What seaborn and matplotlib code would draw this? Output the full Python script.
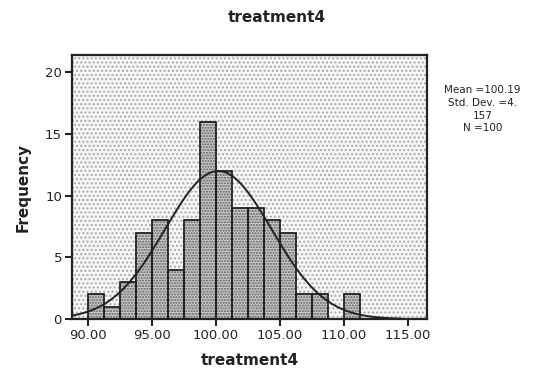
import numpy as np
import pandas as pd
import matplotlib
matplotlib.use("Agg")
import matplotlib.pyplot as plt
import seaborn as sns

# Frequency table of treatment4 (bins of width 1.25 starting at 90)
bin_start = 90.0
bin_width = 1.25
counts = [2, 1, 3, 7, 8, 4, 8, 16, 12, 9, 9, 8, 7, 2, 2, 0, 2]
mean_value = 100.19
std_dev = 4.157
n_obs = 100
x_ticks = [90, 95, 100, 105, 110, 115]
y_ticks = [0, 5, 10, 15, 20]

edges = [bin_start + bin_width * i for i in range(len(counts) + 1)]
centers = [(edges[i] + edges[i + 1]) / 2 for i in range(len(counts))]
df = pd.DataFrame({"treatment4": centers, "count": counts})

sns.set_style("white")
plt.rcParams["font.family"] = ["DejaVu Sans"]
plt.rcParams["hatch.linewidth"] = 1.0

fig = plt.figure(figsize=(5.6, 3.9), dpi=100)
ax = fig.add_axes([0.128, 0.182, 0.635, 0.677])

# dotted plot background
ax.patch.set_facecolor("#f7f7f7")
ax.patch.set_hatch("....")
ax.patch.set_edgecolor("#a8a8a8")

# bar fill (dense dots) and outlines drawn as two layers
sns.histplot(data=df, x="treatment4", weights="count", bins=edges, ax=ax,
             stat="count", fill=True, color="#cbcbcb", edgecolor="#5a5a5a",
             linewidth=0, hatch="......", alpha=1.0)
sns.histplot(data=df, x="treatment4", weights="count", bins=edges, ax=ax,
             stat="count", element="bars", fill=False, color="#222222",
             linewidth=1.3)

# fitted normal curve scaled to the histogram
xs = np.linspace(88.8, 114.5, 300)
ys = n_obs * bin_width * np.exp(-0.5 * ((xs - mean_value) / std_dev) ** 2) / (std_dev * np.sqrt(2 * np.pi))
sns.lineplot(x=xs, y=ys, ax=ax, color="#222222", linewidth=1.4)

ax.set_xlim(88.75, 116.5)
ax.set_ylim(0, 21.4)
ax.set_xticks(x_ticks)
ax.set_xticklabels([f"{v:.2f}" for v in x_ticks])
ax.set_yticks(y_ticks)
ax.set_yticklabels([str(v) for v in y_ticks])
ax.tick_params(axis="both", direction="out", length=5, width=1.5, color="#222222",
               labelsize=9.5, labelcolor="#222222", pad=2, left=True, bottom=True)

for s in ax.spines.values():
    s.set_visible(True)
    s.set_color("#222222")
    s.set_linewidth(1.6)
    s.set_linestyle((0, (1.5, 0.7)))

ax.set_xlabel("treatment4", fontsize=11, fontweight="bold", color="#222222", labelpad=8)
ax.set_ylabel("Frequency", fontsize=11, fontweight="bold", color="#222222", labelpad=10)
fig.text(0.495, 0.955, "treatment4", ha="center", va="center", fontsize=11,
         fontweight="bold", color="#222222")

fig.text(0.862, 0.72, f"Mean ={mean_value}\nStd. Dev. =4.\n157\nN ={n_obs}",
         ha="center", va="center", fontsize=7.5, color="#222222", linespacing=1.35)

fig.savefig("out.png", dpi=100)
